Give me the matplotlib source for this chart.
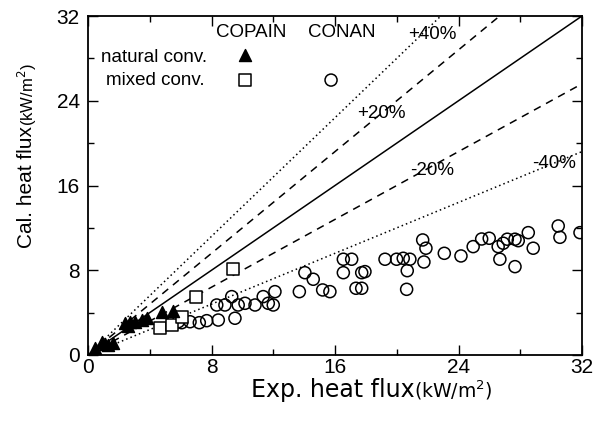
import matplotlib
matplotlib.use('Agg')
import matplotlib.pyplot as plt
import numpy as np
from matplotlib.ticker import MultipleLocator

plt.rcParams['font.family'] = ['Liberation Sans', 'DejaVu Sans']

# COPAIN, natural convection (filled triangles)
nat_x = [0.45, 0.89, 1.10, 1.30, 1.62, 2.40, 2.60, 2.72, 3.04, 3.48, 3.80, 4.77, 5.52]
nat_y = [0.66, 1.26, 1.00, 0.94, 1.13, 3.02, 2.70, 3.14, 3.14, 3.30, 3.49, 4.09, 4.18]

# COPAIN, mixed convection (open squares)
mix_x = [4.66, 5.42, 6.07, 6.99, 9.37]
mix_y = [2.55, 2.83, 3.62, 5.45, 8.09]

# CONAN, mixed convection (open circles)
conan_x = [5.85, 6.07, 6.61, 7.21, 7.69, 8.44, 9.52,
           8.34, 8.87, 9.31, 9.73, 10.17, 10.82, 11.35, 11.68, 12.00, 12.11,
           13.69, 14.05, 14.59, 15.20, 15.67,
           16.54, 17.08, 16.54, 17.36, 17.73, 17.73, 17.94,
           19.24, 19.99, 20.42, 20.85, 20.68, 20.64,
           21.68, 21.89, 21.76, 23.08, 24.16, 24.95, 25.50, 25.99, 26.57, 26.90,
           27.16, 27.66, 27.87, 28.52, 28.84, 26.68, 27.66, 30.46, 30.57, 31.87]
conan_y = [3.14, 3.05, 3.14, 3.05, 3.24, 3.30, 3.47,
           4.72, 4.72, 5.51, 4.72, 4.88, 4.72, 5.51, 4.88, 4.72, 5.98,
           5.98, 7.77, 7.15, 6.14, 5.98,
           9.04, 9.04, 7.77, 6.30, 6.30, 7.77, 7.87,
           9.04, 9.04, 9.13, 9.04, 7.96, 6.20,
           10.86, 10.08, 8.78, 9.60, 9.35, 10.23, 10.95, 11.02, 10.23, 10.55,
           10.93, 10.93, 10.79, 11.55, 10.08, 9.04, 8.34, 12.18, 11.11, 11.55]

# error bands
band_factors = [1.4, 1.2, 0.8, 0.6]
band_labels = ['+40%', '+20%', '-20%', '-40%']
band_styles = [':', '--', '--', ':']
label_pos = [(22.3, 30.3), (19.0, 22.8), (22.3, 17.4), (30.2, 18.1)]

W, H = 605, 426
fig = plt.figure(figsize=(W / 100, H / 100), dpi=100)
ax = fig.add_axes([88 / W, 1 - 355 / H, 494 / W, 339 / H])

xs = np.array([0, 32])
ax.plot(xs, xs, color='black', lw=1.1)
for f, ls in zip(band_factors, band_styles):
    ax.plot(xs, xs * f, color='black', lw=1.1, ls=ls,
            dashes=(5, 4) if ls == '--' else (1, 2))
for lab, (tx, ty) in zip(band_labels, label_pos):
    ax.text(tx, ty, lab, fontsize=13.5, ha='center', va='center')

ax.scatter(conan_x, conan_y, s=75, marker='o', facecolors='none',
           edgecolors='black', linewidths=1.1, zorder=3)
ax.scatter(mix_x, mix_y, s=70, marker='s', facecolors='white',
           edgecolors='black', linewidths=1.1, zorder=4)
ax.scatter(nat_x, nat_y, s=75, marker='^', color='black', zorder=5)

# legend drawn as a small text table
lg = dict(transform=ax.transAxes, fontsize=13.5, va='center')
ax.text(0.330, 0.950, 'COPAIN', ha='center', **lg)
ax.text(0.514, 0.950, 'CONAN', ha='center', **lg)
ax.text(0.241, 0.878, 'natural conv.', ha='right', **lg)
ax.text(0.237, 0.811, 'mixed conv.', ha='right', **lg)
ax.scatter([0.318], [0.885], s=75, marker='^', color='black',
           transform=ax.transAxes)
ax.scatter([0.318], [0.811], s=70, marker='s', facecolors='none',
           edgecolors='black', linewidths=1.1, transform=ax.transAxes)
ax.scatter([0.492], [0.811], s=75, marker='o', facecolors='none',
           edgecolors='black', linewidths=1.1, transform=ax.transAxes)

ax.set_xlim(0, 32)
ax.set_ylim(0, 32)
ax.xaxis.set_major_locator(MultipleLocator(8))
ax.yaxis.set_major_locator(MultipleLocator(8))
ax.xaxis.set_minor_locator(MultipleLocator(4))
ax.yaxis.set_minor_locator(MultipleLocator(4))
ax.tick_params(which='both', direction='in', top=True, right=True,
               labelsize=15, width=1.0)
ax.tick_params(which='major', length=7)
ax.tick_params(which='minor', length=4)
ax.tick_params(axis='x', which='major', pad=2)
ax.tick_params(axis='y', which='major', pad=6)
for sp in ax.spines.values():
    sp.set_linewidth(1.3)

# axis titles: big main text, smaller unit part
renderer = fig.canvas.get_renderer()


def split_label(main, unit, cx, cy, size, vertical=False, family=None):
    rot = 90 if vertical else 0
    kw = {'family': family} if family else {}
    t1 = fig.text(0, 0, main, fontsize=size, rotation=rot, **kw)
    t2 = fig.text(0, 0, unit, fontsize=size * 0.8, rotation=rot, **kw)
    b1 = t1.get_window_extent(renderer)
    b2 = t2.get_window_extent(renderer)
    if not vertical:
        total = b1.width + b2.width
        x0 = cx - total / 2
        t1.set_position((x0 / W, 1 - cy / H))
        t1.set_va('center')
        t2.set_position(((x0 + b1.width) / W, 1 - cy / H))
        t2.set_va('center')
    else:
        total = b1.height + b2.height
        y0 = cy + total / 2
        t1.set_position((cx / W, 1 - y0 / H))
        t1.set_ha('center')
        t1.set_va('bottom')
        t2.set_position((cx / W, 1 - (y0 - b1.height) / H))
        t2.set_ha('center')
        t2.set_va('bottom')


split_label('Exp. heat flux', '(kW/m$^2$)', 372, 390, 17,
            family=['DejaVu Sans'])
split_label('Cal. heat flux', '(kW/m$^2$)', 27, 156, 15, vertical=True)

fig.savefig('out.png', dpi=100)
